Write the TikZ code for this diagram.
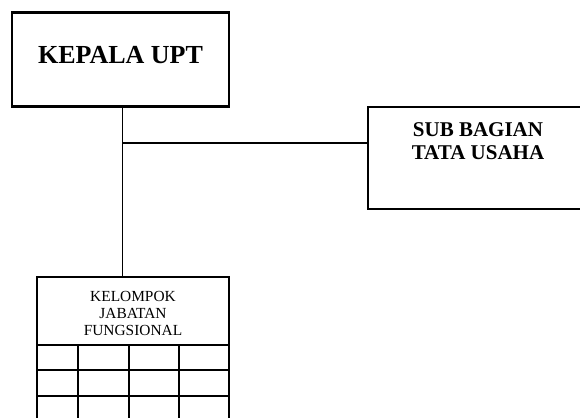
\documentclass[tikz,border=0pt]{standalone}
\usepackage{fontspec}
\setmainfont{Liberation Serif}
\usetikzlibrary{positioning}
\tikzset{
  orgbox/.style={draw,line width=2.2pt,inner sep=0pt},
  orgline/.style={line width=1.8pt},
  gridline/.style={line width=2.2pt}
}

\begin{document}
\begin{tikzpicture}[x=1pt,y=-1pt]
  \clip (0,0) rectangle (580,417);
  % boxes
  \node[orgbox,minimum width=217pt,minimum height=94pt] (kepala) at (120.5,59.5) {};
  \node[inner sep=0pt,font=\fontsize{26}{30}\selectfont\bfseries,below=35pt of kepala.north] (kepalatxt) {KEPALA UPT};
  \node[orgbox,minimum width=230pt,minimum height=102pt] (sub) at (483,158) {};
  \node[inner sep=0pt,align=center,font=\fontsize{21}{23.3}\selectfont\bfseries,below=16.5pt of sub.north,xshift=-5pt] (subtxt) {SUB BAGIAN\\TATA USAHA};
  \node[orgbox,minimum width=192pt,minimum height=68pt] (kelompok) at (133,311) {};
  \node[inner sep=0pt,align=center,font=\fontsize{15.4}{17}\selectfont,below=15.5pt of kelompok.north] (kelompoktxt) {KELOMPOK\\JABATAN\\FUNGSIONAL};
  % grid below the group box
  \foreach \y in {345,370.3,395.7} {
    \foreach \xa/\xb in {37/78,78/129,129/179,179/229} {
      \draw[gridline] (\xa,\y) rectangle (\xb,\y+25.3);
    }
  }
  % connectors
  \coordinate (jn) at (122.5,143.3);
  \draw[orgline] (kepala.south -| jn) -- (jn |- kelompok.north);
  \draw[orgline] (jn) -- (sub.west |- jn);
\end{tikzpicture}
\end{document}
